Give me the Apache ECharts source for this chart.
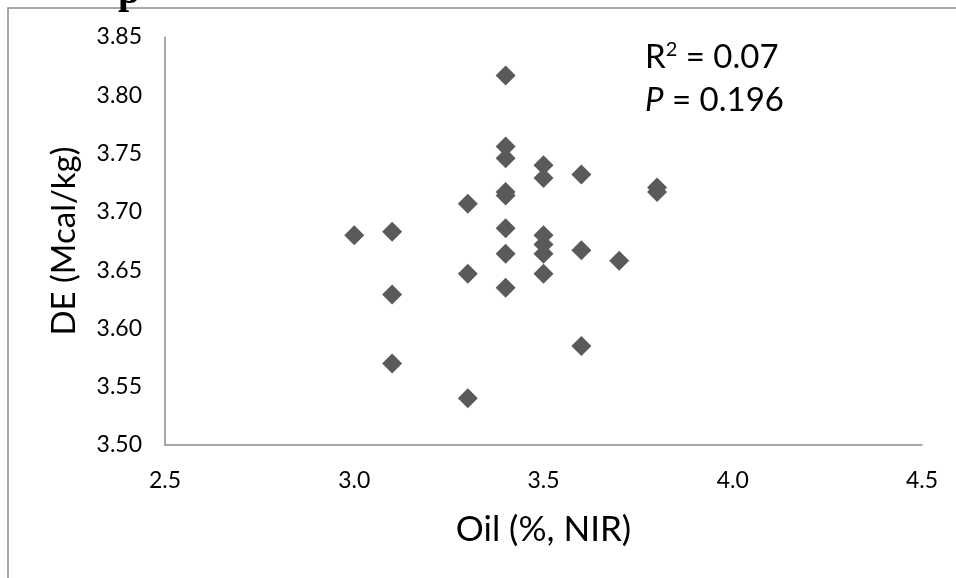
<!DOCTYPE html>
<html>
<head>
<meta charset="utf-8">
<script src="https://cdn.jsdelivr.net/npm/echarts@6/dist/echarts.min.js"></script>
<style>html,body{margin:0;padding:0;background:#fff}#c{width:956px;height:578px}</style>
</head>
<body>
<div id="c"></div>
<script>
var oil = [3.0, 3.1, 3.1, 3.1, 3.3, 3.3, 3.3, 3.4, 3.4, 3.4, 3.4, 3.4, 3.4, 3.4, 3.4, 3.5, 3.5, 3.5, 3.5, 3.5, 3.5, 3.6, 3.6, 3.6, 3.7, 3.8, 3.8];
var de  = [3.680, 3.683, 3.629, 3.570, 3.707, 3.647, 3.540, 3.817, 3.756, 3.746, 3.717, 3.714, 3.686, 3.664, 3.635, 3.740, 3.729, 3.680, 3.672, 3.664, 3.647, 3.732, 3.667, 3.585, 3.658, 3.721, 3.717];
var xTicks = [2.5, 3.0, 3.5, 4.0, 4.5];
var yTicks = [3.50, 3.55, 3.60, 3.65, 3.70, 3.75, 3.80, 3.85];
var statLines = ['R² = 0.07', 'P = 0.196'];

var pts = oil.map(function (v, i) { return [v, de[i]]; });
var font = 'Lato, "Open Sans", sans-serif';
var chart = echarts.init(document.getElementById('c'));
chart.setOption({
  animation: false,
  backgroundColor: '#fff',
  grid: { left: 165, right: 34, top: 37, bottom: 133, containLabel: false },
  xAxis: {
    type: 'value', min: xTicks[0], max: xTicks[xTicks.length - 1], interval: 0.5,
    name: 'Oil (%, NIR)', nameLocation: 'middle', nameGap: 67,
    nameTextStyle: { fontFamily: font, fontSize: 35, color: '#000' },
    axisLine: { show: true, lineStyle: { color: '#8a8a8a', width: 1.5 } },
    axisTick: { show: false },
    splitLine: { show: false },
    axisLabel: { margin: 24, fontFamily: font, fontSize: 23, color: '#000', formatter: function (v) { return v.toFixed(1); } }
  },
  yAxis: {
    type: 'value', min: yTicks[0], max: yTicks[yTicks.length - 1], interval: 0.05,
    name: 'DE (Mcal/kg)', nameLocation: 'middle', nameGap: 84,
    nameTextStyle: { fontFamily: font, fontSize: 33, color: '#000' },
    axisLine: { show: true, lineStyle: { color: '#8a8a8a', width: 1.5 } },
    axisTick: { show: false },
    splitLine: { show: false },
    axisLabel: { margin: 23, fontFamily: font, fontSize: 23, color: '#000', formatter: function (v) { return v.toFixed(2); } }
  },
  series: [{
    type: 'scatter', data: pts, symbol: 'diamond', symbolSize: 20,
    itemStyle: { color: '#5a5a5a', opacity: 1 }
  }],
  graphic: [
    { type: 'polyline', shape: { points: [[8, 1000], [8, 8], [1000, 8]] }, style: { stroke: '#8c8c8c', lineWidth: 1.5, fill: null } },
    { type: 'text', left: 118, top: -27, style: { text: 'p', font: 'bold 40px "Liberation Serif", serif', fill: '#000' } },
    { type: 'text', left: 645, top: 40, style: { text: statLines[0].replace('²', '{sup|2}'), rich: { sup: { fontSize: 20, verticalAlign: 'top', padding: [0, 0, 14, 0], fontFamily: font } }, fontFamily: font, fontSize: 33, fill: '#000' } },
    { type: 'text', left: 645, top: 84, style: { text: '{i|P}' + statLines[1].slice(1), rich: { i: { fontStyle: 'italic', fontFamily: font, fontSize: 33 } }, fontFamily: font, fontSize: 33, fill: '#000' } }
  ]
});
</script>
</body>
</html>
